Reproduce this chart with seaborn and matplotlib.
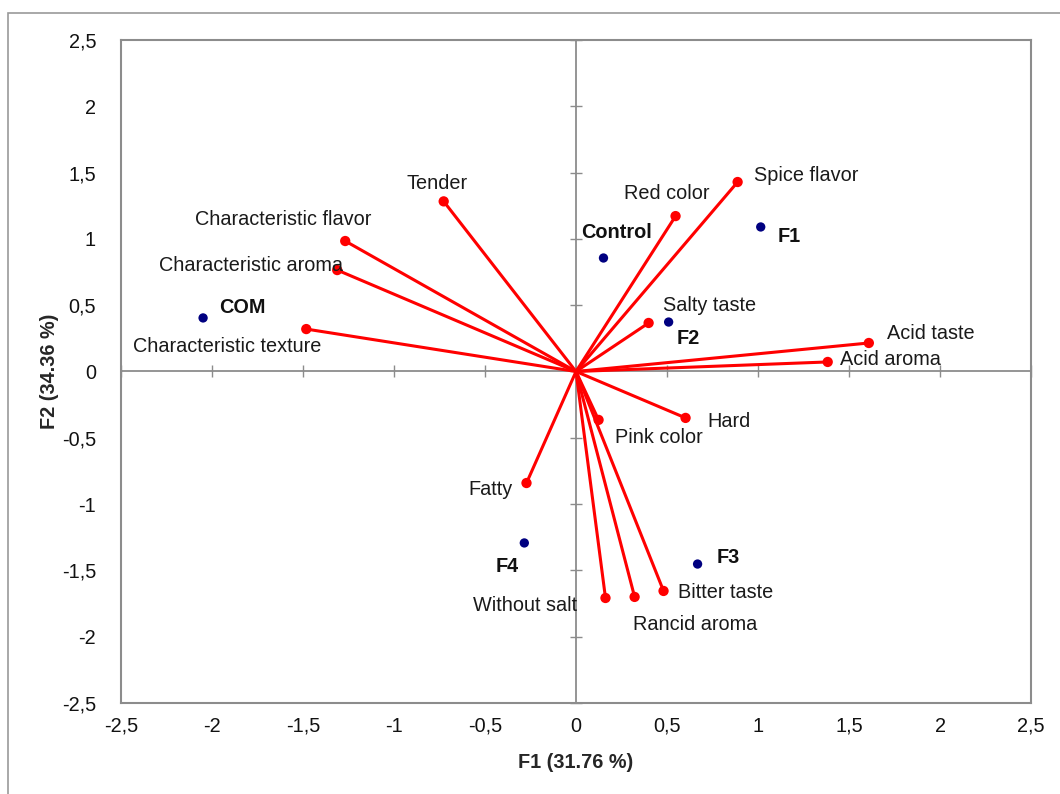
import matplotlib
matplotlib.use("Agg")
import matplotlib.pyplot as plt
import seaborn as sns
import pandas as pd
import numpy as np
from matplotlib.ticker import FuncFormatter, MultipleLocator
from matplotlib.patches import Rectangle

# ---- data ----
variables = ["Tender", "Characteristic flavor", "Characteristic aroma", "Characteristic texture",
             "Red color", "Spice flavor", "Salty taste", "Acid taste", "Acid aroma", "Hard",
             "Pink color", "Fatty", "Without salt", "Rancid aroma", "Bitter taste"]
var_f1 = [-0.727, -1.268, -1.312, -1.482, 0.547, 0.888, 0.399, 1.609, 1.383, 0.602,
          0.124, -0.272, 0.162, 0.322, 0.481]
var_f2 = [1.283, 0.984, 0.765, 0.320, 1.172, 1.429, 0.366, 0.215, 0.072, -0.350,
          -0.365, -0.841, -1.708, -1.700, -1.655]

samples = ["COM", "Control", "F1", "F2", "F3", "F4"]
obs_f1 = [-2.049, 0.151, 1.015, 0.509, 0.668, -0.284]
obs_f2 = [0.404, 0.856, 1.090, 0.373, -1.452, -1.293]

x_label = "F1 (31.76 %)"
y_label = "F2 (34.36 %)"

# ---- label offsets (pixels, left/center anchored) ----
var_offsets = {
    "Tender": (-37, 18), "Characteristic flavor": (-150, 22), "Characteristic aroma": (-178, 5),
    "Characteristic texture": (-173, -17), "Red color": (-52, 23), "Spice flavor": (16, 7),
    "Salty taste": (14, 17), "Acid taste": (18, 9), "Acid aroma": (12, 2), "Hard": (22, -4),
    "Pink color": (16, -18), "Fatty": (-58, -6), "Without salt": (-132, -8),
    "Rancid aroma": (-2, -28), "Bitter taste": (14, -2),
}
obs_offsets = {
    "COM": (16, 10), "Control": (-22, 25), "F1": (17, -10), "F2": (8, -16),
    "F3": (19, 7), "F4": (-29, -24),
}

sns.set_theme(style="white")
plt.rcParams["font.family"] = ["Liberation Sans", "DejaVu Sans"]

FS = 14.3
GRAY = "#8c8c8c"
RED = "#ff0000"
NAVY = "#000080"

fig = plt.figure(figsize=(10.6, 7.94), dpi=100)
fig.patch.set_facecolor("white")
pos = [121 / 1060, 1 - 703 / 794, (1031 - 121) / 1060, (703 - 40) / 794]

# background axes with crosshair through origin
ax0 = fig.add_axes(pos, zorder=1)
ax0.set_xlim(-2.5, 2.5)
ax0.set_ylim(-2.5, 2.5)
ax0.set_facecolor("white")
for s in ["top", "right"]:
    ax0.spines[s].set_visible(False)
ax0.spines["left"].set_position(("data", 0))
ax0.spines["bottom"].set_position(("data", 0))
for s in ["left", "bottom"]:
    ax0.spines[s].set_color(GRAY)
    ax0.spines[s].set_linewidth(1.3)
ax0.xaxis.set_major_locator(MultipleLocator(0.5))
ax0.yaxis.set_major_locator(MultipleLocator(0.5))
ax0.tick_params(axis="x", direction="inout", length=9, width=1, color=GRAY, labelbottom=False, bottom=True)
ax0.tick_params(axis="y", direction="inout", length=9, width=1, color=GRAY, labelleft=False, left=True)

# main axes
ax = fig.add_axes(pos, zorder=2)
ax.set_facecolor("none")

# vectors as long-form segments
seg = pd.DataFrame({
    "variable": np.repeat(variables, 2),
    "F1": np.ravel([[0.0, v] for v in var_f1]),
    "F2": np.ravel([[0.0, v] for v in var_f2]),
})
sns.lineplot(data=seg, x="F1", y="F2", units="variable", estimator=None, sort=False,
             color=RED, linewidth=2.2, ax=ax, legend=False)
vdf = pd.DataFrame({"variable": variables, "F1": var_f1, "F2": var_f2})
sns.scatterplot(data=vdf, x="F1", y="F2", color=RED, s=55, edgecolor="none", ax=ax, legend=False, zorder=3)

odf = pd.DataFrame({"sample": samples, "F1": obs_f1, "F2": obs_f2})
sns.scatterplot(data=odf, x="F1", y="F2", color=NAVY, s=45, edgecolor="none", ax=ax, legend=False, zorder=3)

for name, xv, yv in zip(variables, var_f1, var_f2):
    ax.annotate(name, (xv, yv), xytext=var_offsets[name], textcoords="offset pixels",
                ha="left", va="center", fontsize=FS, color="#1a1a1a")
for name, xv, yv in zip(samples, obs_f1, obs_f2):
    ax.annotate(name, (xv, yv), xytext=obs_offsets[name], textcoords="offset pixels",
                ha="left", va="center", fontsize=FS, fontweight="bold", color="#111111")

ax.set_xlim(-2.5, 2.5)
ax.set_ylim(-2.5, 2.5)
ax.xaxis.set_major_locator(MultipleLocator(0.5))
ax.yaxis.set_major_locator(MultipleLocator(0.5))
fmt = FuncFormatter(lambda v, p: f"{v:g}".replace(".", ","))
ax.xaxis.set_major_formatter(fmt)
ax.yaxis.set_major_formatter(fmt)
ax.tick_params(axis="both", length=0, labelsize=FS, colors="#111111")
ax.tick_params(axis="x", pad=10)
ax.tick_params(axis="y", pad=18)
for s in ax.spines.values():
    s.set_visible(True)
    s.set_color(GRAY)
    s.set_linewidth(1.5)
ax.set_xlabel(x_label, fontsize=FS, fontweight="bold", labelpad=12)
ax.set_ylabel(y_label, fontsize=FS, fontweight="bold", labelpad=2)

# outer border of the chart area
fig.patches.append(Rectangle((8 / 1060, -0.1), 1.2, 1 - 13 / 794 + 0.1, transform=fig.transFigure,
                             fill=False, edgecolor="#9a9a9a", linewidth=1.2, zorder=0))

fig.savefig("out.png", dpi=100, facecolor="white")
